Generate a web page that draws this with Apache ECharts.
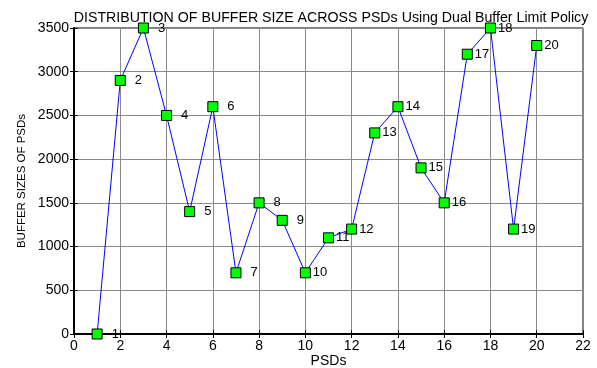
<!DOCTYPE html>
<html>
<head>
<meta charset="utf-8">
<script src="https://cdn.jsdelivr.net/npm/echarts@6/dist/echarts.min.js"></script>
<style>
  html, body { margin: 0; padding: 0; background: #fff; }
  #chart { width: 597px; height: 368px; }
</style>
</head>
<body>
<div id="chart"></div>
<script>
  // PSD index and buffer size
  const psds = [1, 2, 3, 4, 5, 6, 7, 8, 9, 10, 11, 12, 13, 14, 15, 16, 17, 18, 19, 20];
  const bufferSizes = [0, 2900, 3500, 2500, 1400, 2600, 700, 1500, 1300, 700,
                       1100, 1200, 2300, 2600, 1900, 1500, 3200, 3500, 1200, 3300];
  const xTicks = [0, 2, 4, 6, 8, 10, 12, 14, 16, 18, 20, 22];
  const yTicks = [0, 500, 1000, 1500, 2000, 2500, 3000, 3500];

  const font = 'Liberation Sans, Arial, sans-serif';
  let chart = echarts.init(document.getElementById('chart'));

  let points = psds.map(function (p, i) {
    return {
      value: [p, bufferSizes[i]],
      label: { distance: p < 10 ? 9 : 2 }
    };
  });

  let option = {
    animation: false,
    title: {
      text: 'DISTRIBUTION OF BUFFER SIZE ACROSS PSDs Using Dual Buffer Limit Policy',
      left: 326,
      textAlign: 'center',
      top: 6,
      textStyle: { fontFamily: font, fontSize: 14.2, fontWeight: 'normal', color: '#000' }
    },
    grid: {
      left: 74, right: 14, top: 28, bottom: 34,
      outerBoundsMode: 'none',
      containLabel: false,
      show: true, borderColor: '#000', borderWidth: 1
    },
    xAxis: [{
      type: 'value',
      min: 0, max: 22, interval: 2,
      name: 'PSDs', nameLocation: 'middle', nameGap: 20,
      nameMoveOverlap: false,
      nameTextStyle: { fontFamily: font, fontSize: 14, color: '#000' },
      axisLine: { show: true, lineStyle: { color: '#000', width: 2 } },
      axisTick: { show: true, inside: true, length: 4, lineStyle: { color: '#000' } },
      axisLabel: {
        fontFamily: font, fontSize: 14, color: '#000', margin: 5,
        formatter: function (v) { return xTicks.indexOf(v) >= 0 ? String(v) : ''; }
      },
      splitLine: { show: true, lineStyle: { color: '#8a8a8a', width: 1 } }
    }, {
      type: 'value', position: 'top',
      min: 0, max: 22, interval: 2,
      axisLine: { show: false },
      axisTick: { show: true, inside: true, length: 4, lineStyle: { color: '#000' } },
      axisLabel: { show: false },
      splitLine: { show: false }
    }],
    yAxis: [{
      type: 'value',
      min: 0, max: 3500, interval: 500,
      name: 'BUFFER SIZES OF PSDs', nameLocation: 'middle', nameGap: 46,
      nameMoveOverlap: false,
      nameTextStyle: { fontFamily: font, fontSize: 11.5, color: '#000' },
      axisLine: { show: true, lineStyle: { color: '#000', width: 2 } },
      axisTick: { show: true, inside: true, length: 4, lineStyle: { color: '#000' } },
      axisLabel: {
        fontFamily: font, fontSize: 14, color: '#000', margin: 5,
        formatter: function (v) { return yTicks.indexOf(v) >= 0 ? String(v) : ''; }
      },
      splitLine: { show: true, lineStyle: { color: '#8a8a8a', width: 1 } }
    }, {
      type: 'value', position: 'right',
      min: 0, max: 3500, interval: 500,
      axisLine: { show: false },
      axisTick: { show: true, inside: true, length: 4, lineStyle: { color: '#000' } },
      axisLabel: { show: false },
      splitLine: { show: false }
    }],
    series: [{
      type: 'line',
      data: points,
      symbol: 'rect',
      symbolSize: 10,
      itemStyle: { color: '#00ff00', borderColor: '#000', borderWidth: 1 },
      lineStyle: { color: '#0000ff', width: 1 },
      label: {
        show: true, position: 'right',
        fontFamily: font, fontSize: 13, color: '#000',
        formatter: function (p) { return String(p.value[0]); }
      }
    }]
  };
  chart.setOption(option);
</script>
</body>
</html>
